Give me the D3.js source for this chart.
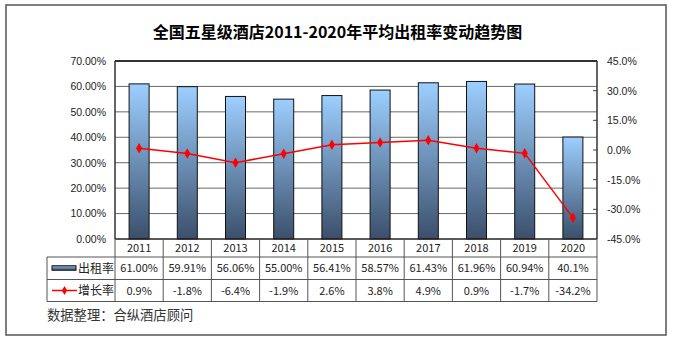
<!DOCTYPE html>
<html><head><meta charset="utf-8">
<script src="https://cdn.jsdelivr.net/npm/d3@7"></script>
<style>body{margin:0;background:#fff}svg{display:block}</style>
</head><body><svg id="c" width="673" height="341"></svg>
<script>
const years = ["2011","2012","2013","2014","2015","2016","2017","2018","2019","2020"];
const occupancy = [61.00,59.91,56.06,55.00,56.41,58.57,61.43,61.96,60.94,40.1];
const occupancyLabels = ["61.00%","59.91%","56.06%","55.00%","56.41%","58.57%","61.43%","61.96%","60.94%","40.1%"];
const growth = [0.9,-1.8,-6.4,-1.9,2.6,3.8,4.9,0.9,-1.7,-34.2];
const growthLabels = ["0.9%","-1.8%","-6.4%","-1.9%","2.6%","3.8%","4.9%","0.9%","-1.7%","-34.2%"];
const leftTicks = [0,10,20,30,40,50,60,70];
const rightTicks = [-45,-30,-15,0,15,30,45];
const title = "全国五星级酒店2011-2020年平均出租率变动趋势图";
const seriesNames = ["出租率","增长率"];
const source = "数据整理：合纵酒店顾问";

const svg = d3.select("#c");
const L = 115, R = 597, T = 61, B = 239;
const x = d3.scaleBand().domain(years).range([L, R]).paddingInner(0).paddingOuter(0);
const yL = d3.scaleLinear().domain([0, 70]).range([B, T]);
const yR = d3.scaleLinear().domain([-45, 45]).range([B, T]);
const cjk = "'Noto Sans CJK SC','Microsoft YaHei',sans-serif";
const arial = "'Liberation Sans',Arial,sans-serif";

// outer border
svg.append("rect").attr("x",6).attr("y",5).attr("width",660).attr("height",330)
  .attr("fill","none").attr("stroke","#555").attr("stroke-width",1.5);

// title
svg.append("text").attr("x",337.5).attr("y",38).attr("text-anchor","middle")
  .attr("font-family",cjk).attr("font-weight","bold").attr("font-size",16).attr("fill","#000").text(title);

// gradient
const defs = svg.append("defs");
const g = defs.append("linearGradient").attr("id","bg").attr("x1",0).attr("y1",0).attr("x2",0).attr("y2",1);
g.append("stop").attr("offset","0%").attr("stop-color","#9dcfff");
g.append("stop").attr("offset","100%").attr("stop-color","#3b4f6b");
const g2 = defs.append("linearGradient").attr("id","lg").attr("x1",0).attr("y1",0).attr("x2",0).attr("y2",1);
g2.append("stop").attr("offset","0%").attr("stop-color","#8fb6e0");
g2.append("stop").attr("offset","100%").attr("stop-color","#3b4f6b");

// gridlines
svg.append("g").selectAll("line").data(leftTicks.filter(d=>d>0 && d<70)).join("line")
  .attr("x1",L).attr("x2",R).attr("y1",d=>yL(d)).attr("y2",d=>yL(d))
  .attr("stroke","#444").attr("stroke-width",0.8);

// left axis labels
const la = d3.axisLeft(yL).tickValues(leftTicks).tickFormat(d=>d.toFixed(2)+"%").tickSize(0).tickPadding(9);
const lag = svg.append("g").attr("transform",`translate(${L},0)`).call(la);
lag.select(".domain").remove();
lag.selectAll("text").attr("font-family",arial).attr("font-size",10.5).attr("fill","#222");

// right axis
const ra = d3.axisRight(yR).tickValues(rightTicks).tickFormat(d=>d.toFixed(1)+"%").tickSize(0).tickPadding(10);
const rag = svg.append("g").attr("transform",`translate(${R},0)`).call(ra);
rag.select(".domain").remove();
rag.selectAll("text").attr("font-family",arial).attr("font-size",10.5).attr("fill","#222");
svg.append("g").selectAll("line").data(rightTicks.filter(d=>d>-45 && d<45)).join("line")
  .attr("x1",R-4).attr("x2",R).attr("y1",d=>yR(d)).attr("y2",d=>yR(d))
  .attr("stroke","#444").attr("stroke-width",1);

// bars
const bw = 20;
svg.append("g").selectAll("rect").data(years).join("rect")
  .attr("x",(d)=>x(d)+x.bandwidth()/2-bw/2).attr("width",bw)
  .attr("y",(d,i)=>yL(occupancy[i])).attr("height",(d,i)=>B-yL(occupancy[i]))
  .attr("fill","url(#bg)").attr("stroke","#111").attr("stroke-width",1);

// plot frame
svg.append("line").attr("x1",L).attr("x2",R).attr("y1",T).attr("y2",T).attr("stroke","#333").attr("stroke-width",1.8);
svg.append("line").attr("x1",L).attr("x2",L).attr("y1",T).attr("y2",B).attr("stroke","#333").attr("stroke-width",1.5);
svg.append("line").attr("x1",R).attr("x2",R).attr("y1",T).attr("y2",B).attr("stroke","#333").attr("stroke-width",1.5);
svg.append("line").attr("x1",L).attr("x2",R).attr("y1",B).attr("y2",B).attr("stroke","#222").attr("stroke-width",1.5);

// line series
const line = d3.line().x((d,i)=>x(years[i])+x.bandwidth()/2).y(d=>yR(d));
svg.append("path").datum(growth).attr("d",line).attr("fill","none").attr("stroke","#ff0000").attr("stroke-width",1.5);
const diamond = d3.symbol().type(d3.symbolDiamond).size(32);
svg.append("g").selectAll("path").data(growth).join("path")
  .attr("d",diamond).attr("transform",(d,i)=>`translate(${x(years[i])+x.bandwidth()/2},${yR(d)})`)
  .attr("fill","#ff0000");

// data table
const rowY = [B, 257, 279.5, 301.5];
const tL = 47;
const tb = svg.append("g").attr("stroke","#555").attr("stroke-width",1);
tb.append("line").attr("x1",tL).attr("x2",R).attr("y1",rowY[1]).attr("y2",rowY[1]);
tb.append("line").attr("x1",tL).attr("x2",R).attr("y1",rowY[2]).attr("y2",rowY[2]);
tb.append("line").attr("x1",tL).attr("x2",R).attr("y1",rowY[3]).attr("y2",rowY[3]);
tb.append("line").attr("x1",tL).attr("x2",tL).attr("y1",rowY[1]).attr("y2",rowY[3]);
tb.selectAll("line.v").data(years.map(y=>x(y)).concat([R])).join("line").attr("class","v")
  .attr("x1",d=>d).attr("x2",d=>d).attr("y1",B).attr("y2",rowY[3]);

const txt = svg.append("g").attr("font-family",cjk).attr("font-size",11).attr("fill","#222").attr("text-anchor","middle");
const cx = d => x(d)+x.bandwidth()/2;
txt.selectAll("text.yr").data(years).join("text").attr("class","yr")
  .attr("x",cx).attr("y",(rowY[0]+rowY[1])/2+4).text(d=>d);
txt.selectAll("text.oc").data(years).join("text").attr("class","oc")
  .attr("x",cx).attr("y",(rowY[1]+rowY[2])/2+4).text((d,i)=>occupancyLabels[i]);
txt.selectAll("text.gr").data(years).join("text").attr("class","gr")
  .attr("x",cx).attr("y",(rowY[2]+rowY[3])/2+4).text((d,i)=>growthLabels[i]);

// legend keys in table
const ly1 = (rowY[1]+rowY[2])/2, ly2 = (rowY[2]+rowY[3])/2;
svg.append("rect").attr("x",52).attr("y",ly1-2.5).attr("width",24).attr("height",4.5)
  .attr("fill","url(#lg)").attr("stroke","#111").attr("stroke-width",1);
svg.append("line").attr("x1",52).attr("x2",77).attr("y1",ly2).attr("y2",ly2).attr("stroke","#ff0000").attr("stroke-width",1.5);
svg.append("path").attr("d",d3.symbol().type(d3.symbolDiamond).size(24)).attr("transform",`translate(64.5,${ly2})`).attr("fill","#ff0000");
svg.append("g").attr("font-family",cjk).attr("font-size",12).attr("fill","#222")
  .selectAll("text").data(seriesNames).join("text")
  .attr("x",78).attr("y",(d,i)=>(i===0?ly1:ly2)+4.5).text(d=>d);

// source
svg.append("text").attr("x",47).attr("y",320).attr("font-family",cjk).attr("font-size",13.3).attr("fill","#333").text(source);
</script></body></html>
